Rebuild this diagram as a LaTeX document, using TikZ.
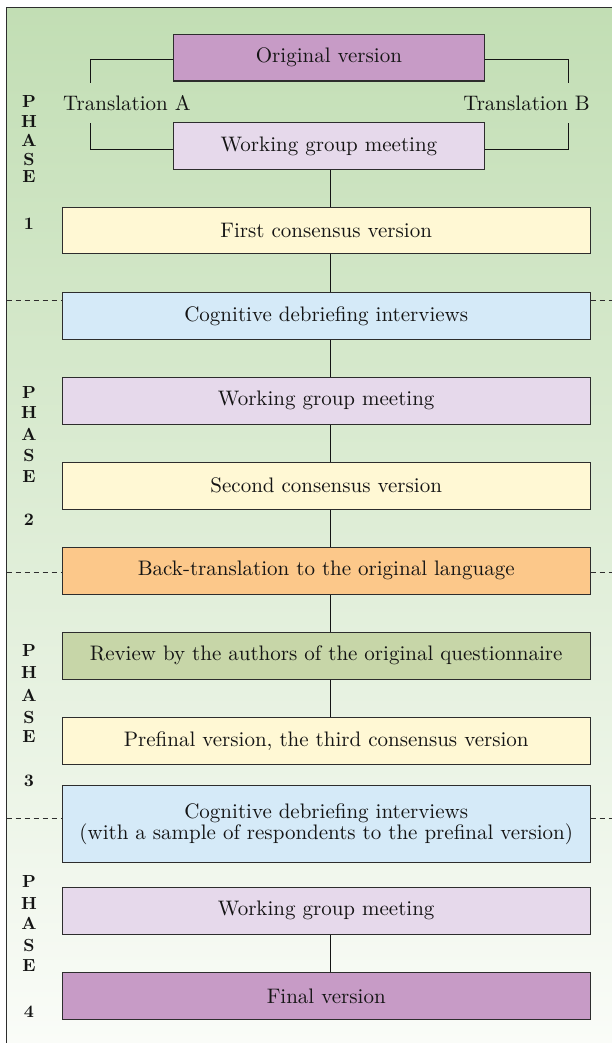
\documentclass[tikz,border=0pt]{standalone}
\usepackage{fontspec}
\setmainfont{lmroman10-regular.otf}[BoldFont=lmroman10-bold.otf, ItalicFont=lmroman10-italic.otf]
\usetikzlibrary{calc}
\definecolor{bgtop}{RGB}{194,222,180}
\definecolor{bgbot}{RGB}{250,252,248}
\definecolor{purp}{RGB}{199,155,198}
\definecolor{lav}{RGB}{230,217,235}
\definecolor{yel}{RGB}{255,248,212}
\definecolor{blu}{RGB}{213,234,248}
\definecolor{ora}{RGB}{252,200,138}
\definecolor{olv}{RGB}{199,214,168}
\definecolor{edge}{RGB}{45,45,45}
\definecolor{ink}{RGB}{20,20,20}
\tikzset{
  box/.style={draw=edge, line width=1.1pt, text=ink, align=center, inner sep=0pt,
    minimum height=46.7pt, font=\fontsize{21}{20.5}\selectfont},
  widebox/.style={box, minimum width=527.7pt},
  narrowbox/.style={box, minimum width=310.3pt},
  link/.style={draw=ink, line width=0.9pt},
  phase/.style={font=\fontsize{17.5}{18}\selectfont\bfseries, text=ink, inner sep=0pt},
  sepline/.style={draw=edge, line width=0.9pt, dash pattern=on 5pt off 4pt},
  lbl/.style={text=ink, inner sep=0pt, font=\fontsize{21}{20.5}\selectfont}
}
\newcommand\phaselbl[7]{%
  \node[phase] (ph#1P) at (29,#2) {P};
  \node[phase] (ph#1H) at (29,#3) {H};
  \node[phase] (ph#1A) at (29,#4) {A};
  \node[phase] (ph#1S) at (29,#5) {S};
  \node[phase] (ph#1E) at (29,#6) {E};
  \node[phase] (ph#1N) at (29,#7) {#1};
}
\begin{document}
\begin{tikzpicture}[x=1pt,y=-1pt]
\useasboundingbox (0,0) rectangle (612,1043);
\shade[top color=bgtop, bottom color=bgbot] (6.7,7.3) rectangle (612,1043);
\draw[edge, line width=1.3pt] (6.7,1043) -- (6.7,7.3) -- (612,7.3);

% boxes
\node[narrowbox, fill=purp] (orig) at (328.9,57.7) {Original version};
\node[narrowbox, fill=lav] (wgm1) at (328.9,146) {Working group meeting};
\node[widebox, fill=yel] (fc) at (326.2,230.5) {First consensus version};
\node[widebox, fill=blu] (cog1) at (326.2,315.9) {Cognitive debriefing interviews};
\node[widebox, fill=lav] (wgm2) at (326.2,400.7) {Working group meeting};
\node[widebox, fill=yel] (sc) at (326.2,485.7) {Second consensus version};
\node[widebox, fill=ora] (bt) at (326.2,570.7) {Back-translation to the original language};
\node[widebox, fill=olv] (rev) at (326.2,655.7) {Review by the authors of the original questionnaire};
\node[widebox, fill=yel] (pre) at (326.2,740.7) {Prefinal version, the third consensus version};
\node[widebox, fill=blu, minimum height=77pt] (cog2) at (326.2,824.2) {Cognitive debriefing interviews\\(with a sample of respondents to the prefinal version)};
\node[widebox, fill=lav] (wgm3) at (326.2,910.7) {Working group meeting};
\node[widebox, fill=purp] (fin) at (326.2,996) {Final version};

% translation labels
\node[lbl, anchor=west] (ta) at (63,103.5) {Translation A};
\node[lbl, anchor=east] (tb) at (590,103.5) {Translation B};

% brackets
\coordinate (bl) at (90,83);
\coordinate (br) at (568.3,83);
\coordinate (bl2) at (90,122.7);
\coordinate (br2) at (568.3,122.7);
\draw[link] ([yshift=-1.5pt]orig.west) -| (bl);
\draw[link] ([yshift=-1.5pt]orig.east) -| (br);
\draw[link] ([yshift=-3pt]wgm1.west) -| (bl2);
\draw[link] ([yshift=-3pt]wgm1.east) -| (br2);

% spine connectors
\coordinate (spine) at (330,0);
\foreach \a/\b in {wgm1/fc, fc/cog1, cog1/wgm2, wgm2/sc, sc/bt, bt/rev, rev/pre, wgm3/fin}
  \draw[link] (\a.south -| spine) -- (\b.north -| spine);

% phase separators
\foreach \n/\y in {cog1/300, bt/572.3, cog2/818.3}{
  \coordinate (dl\n) at (6.7,\y);
  \coordinate (dr\n) at (612,\y);
  \draw[sepline] (dl\n) -- (dl\n -| \n.west);
  \draw[sepline] (dr\n -| \n.east) -- (dr\n);
}

% phase labels
\phaselbl{1}{101}{121}{140}{159}{177}{224}
\phaselbl{2}{392}{412}{434}{455}{477}{520}
\phaselbl{3}{650}{672}{695}{717}{737}{781}
\phaselbl{4}{881}{903}{923}{945}{966}{1012}
\end{tikzpicture}
\end{document}
